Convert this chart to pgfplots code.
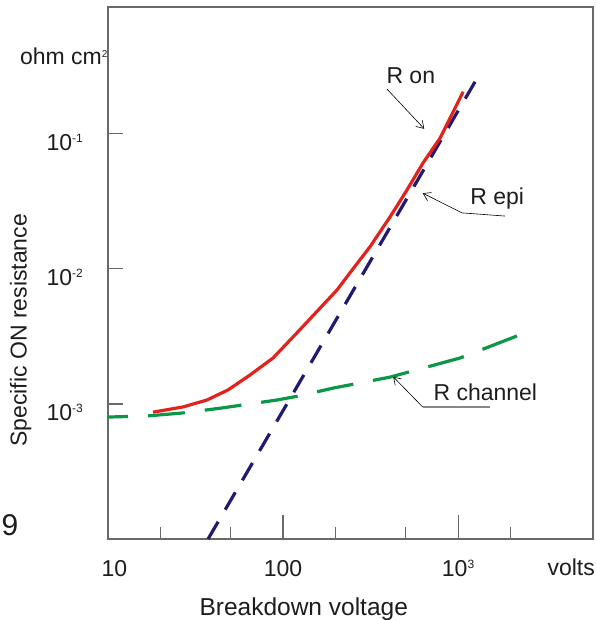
\documentclass[border=0pt]{standalone}
\usepackage{fontspec}
\setmainfont{Liberation Sans}
\usepackage{pgfplots}
\pgfplotsset{compat=1.18}
\usetikzlibrary{arrows.meta}

\definecolor{axgray}{RGB}{105,105,105}
\definecolor{txt}{RGB}{30,28,28}
\definecolor{ronred}{RGB}{228,34,28}
\definecolor{epinavy}{RGB}{34,26,112}
\definecolor{chgreen}{RGB}{12,150,72}

\newcommand\lbl{\fontsize{23bp}{27bp}\selectfont}
\newcommand\biglbl{\fontsize{24.5bp}{28bp}\selectfont}
\newcommand\supx[1]{\raisebox{7.5bp}{\fontsize{12bp}{12bp}\selectfont #1}}

\begin{document}
\begin{tikzpicture}
\path[use as bounding box] (-108bp,-81bp) rectangle (489bp,539bp);
\begin{loglogaxis}[
  at={(0,0)}, anchor=south west,
  scale only axis, width=485bp, height=532bp,
  xmin=10, xmax=5900, ymin=1e-4, ymax=0.87,
  clip mode=individual,
  axis line style={axgray, line width=1.1bp},
  tick style={axgray, line width=1.1bp},
  tick align=inside,
  xtick pos=lower, ytick pos=left,
  xtick={10,100,1000},
  xticklabels={\hphantom{1}10, 100, 10\supx{3}},
  minor xtick={20,50,200,500,2000},
  major tick length=24bp, minor tick length=12bp,
  ytick=\empty,
  extra y ticks={1e-3,1e-2,1e-1},
  extra y tick labels={10\supx{-3}, 10\supx{-2}, 10\supx{-1}},
  extra y tick style={major tick length=15bp},
  tick label style={font=\lbl, text=txt, inner sep=0pt},
  xticklabel style={anchor=north, yshift=-21bp},
  yticklabel style={anchor=east, xshift=-25bp, yshift=-8.5bp},
  every axis plot/.append style={line width=3.2bp},
]

% R channel
\addplot[chgreen, dash pattern=on 37bp off 20bp, dash phase=17bp] coordinates {
  (10,8.0e-4) (16.7,8.15e-4) (26.8,8.58e-4) (44.8,9.34e-4) (92.4,1.07e-3)
  (125,1.15e-3) (193,1.31e-3) (408,1.58e-3) (1027,2.19e-3) (2173,3.19e-3)
};

% R epi
\addplot[epinavy, dash pattern=on 20bp off 14bp] coordinates {
  (37.3,1e-4) (1250,0.243)
};

% R on
\addplot[ronred] coordinates {
  (18.1,8.7e-4) (26.8,9.5e-4) (36.8,1.07e-3) (48.5,1.27e-3) (64.8,1.64e-3)
  (87.7,2.19e-3) (120,3.36e-3) (203.5,6.99e-3) (241,9.34e-3) (314,1.46e-2)
  (409,2.43e-2) (511,3.85e-2) (631,6.1e-2) (789,9.3e-2) (1069,0.205)
};

% annotations
\begin{scope}[txt, font=\lbl]
\node[anchor=base east] at (rel axis cs:0.006,0.891) {ohm cm\supx{\fontsize{10bp}{10bp}\selectfont 2}};
\node[anchor=base west] at (rel axis cs:0.567,0.857) {R on};
\node[anchor=base west] at (rel axis cs:0.740,0.628) {R epi};
\node[anchor=base west] at (rel axis cs:0.664,0.261) {R channel};
\node[anchor=base west] at (rel axis cs:0.899,-0.0677) {volts};
\node[anchor=base west, font=\biglbl] at (rel axis cs:0.1815,-0.1429) {Breakdown voltage};
\node[anchor=base west, rotate=90] at (rel axis cs:-0.1676,0.167) {Specific ON resistance};
\node[anchor=base, font=\fontsize{30bp}{34bp}\selectfont] at (rel axis cs:-0.202,0.0075) {9};
\end{scope}

\draw[black, line width=0.6bp, -{Straight Barb[length=7bp,width=9bp]}]
  (rel axis cs:0.575,0.846) -- (rel axis cs:0.652,0.771);
\draw[black, line width=0.6bp, -{Straight Barb[length=7bp,width=9bp]}]
  (rel axis cs:0.819,0.607) -- (rel axis cs:0.730,0.613) -- (rel axis cs:0.649,0.650);
\draw[axgray!80, line width=1.3bp]
  (rel axis cs:0.788,0.248) -- (rel axis cs:0.649,0.248);
\draw[black, line width=0.6bp, -{Straight Barb[length=7bp,width=9bp]}]
  (rel axis cs:0.649,0.248) -- (rel axis cs:0.588,0.305);
\end{loglogaxis}
\end{tikzpicture}
\end{document}
